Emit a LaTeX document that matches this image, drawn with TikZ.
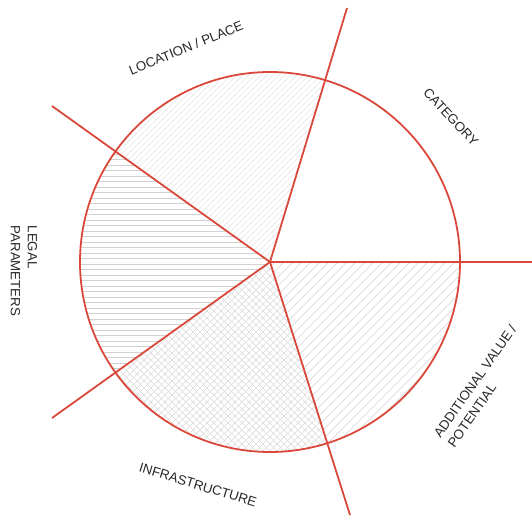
\documentclass[tikz,border=0pt]{standalone}
\usepackage{fontspec}
\setmainfont{Liberation Sans}
\definecolor{redline}{HTML}{D9483B}
\definecolor{hatch}{HTML}{D2D2D2}
\begin{document}
\begin{tikzpicture}[x=1pt,y=1pt,
  redstroke/.style={draw=redline,line width=1.8pt},
  hatchline/.style={draw=hatch,line width=0.45pt},
  lab/.style={font=\fontsize{13.3}{17}\selectfont,text=black!85,inner sep=0pt}]
\useasboundingbox (-270,-255) rectangle (262,262);
\def\R{190}
\coordinate (O) at (0,0);
\coordinate (e1) at (77,254);
\coordinate (e2) at (262,0);
\coordinate (e3) at (80,-253);
\coordinate (e4) at (-218,-156);
\coordinate (e5) at (-218,156);
% LOCATION sector (73.1 to 144.4): diagonal /
\begin{scope}
\clip (O) -- (73.1:\R) arc[start angle=73.1,end angle=144.4,radius=\R] -- cycle;
\foreach \i in {-400,-394,...,400} \draw[hatchline,draw=hatch!65] (\i-200,-200) -- (\i+200,200);
\end{scope}
% LEGAL sector (144.4 to 215.6): horizontal
\begin{scope}
\clip (O) -- (144.4:\R) arc[start angle=144.4,end angle=215.6,radius=\R] -- cycle;
\foreach \i in {-200,-194.5,...,200} \draw[hatchline] (-200,\i) -- (10,\i);
\end{scope}
% INFRASTRUCTURE sector (215.6 to 287.5): cross-hatch
\begin{scope}
\clip (O) -- (215.6:\R) arc[start angle=215.6,end angle=287.5,radius=\R] -- cycle;
\foreach \i in {-420,-413,...,420} {
  \draw[hatchline,draw=hatch!85] (\i-210,-210) -- (\i+210,210);
  \draw[hatchline,draw=hatch!85] (\i-210,210) -- (\i+210,-210);
}
\end{scope}
% ADDITIONAL VALUE sector (-72.5 to 0): diagonal /
\begin{scope}
\clip (O) -- (-72.5:\R) arc[start angle=-72.5,end angle=0,radius=\R] -- cycle;
\foreach \i in {-400,-391,...,400} \draw[hatchline] (\i-200,-200) -- (\i+200,200);
\end{scope}
% circle and spokes
\node[circle,redstroke,minimum size=2*\R pt,inner sep=0pt] (circ) at (O) {};
\draw[redstroke] (O) -- (e1);
\draw[redstroke] (O) -- (e2);
\draw[redstroke] (O) -- (e3);
\draw[redstroke] (O) -- (e4);
\draw[redstroke] (O) -- (e5);
% labels
\node[lab,rotate=22] (loc) at (-84,214) {LOCATION / PLACE};
\node[lab,rotate=-47] (cat) at (181,145) {CATEGORY};
\node[lab,rotate=55,align=left] (add) at (212,-124) {ADDITIONAL VALUE /\\POTENTIAL};
\node[lab,rotate=-90,align=left] (legal) at (-246,-9) {LEGAL\\PARAMETERS};
\node[lab,rotate=-17] (infra) at (-72,-223) {INFRASTRUCTURE};
\end{tikzpicture}
\end{document}
